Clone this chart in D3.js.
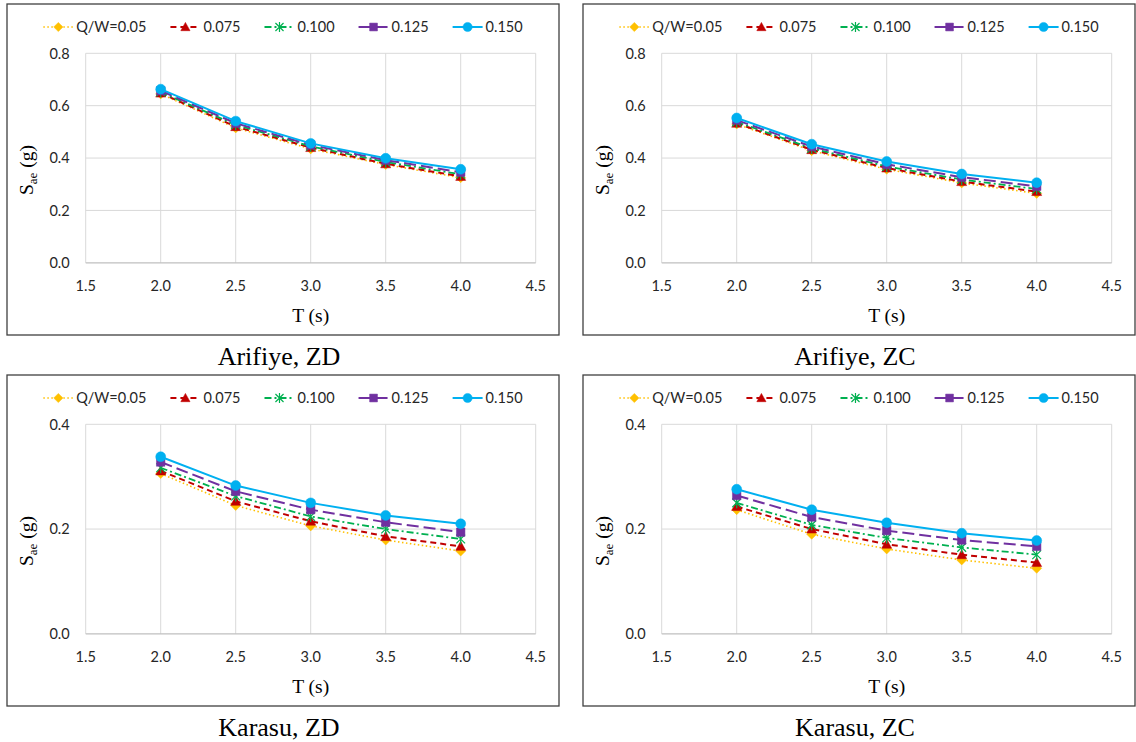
<!DOCTYPE html>
<html>
<head>
<meta charset="utf-8">
<script src="https://cdn.jsdelivr.net/npm/d3@7"></script>
<style>
  body { margin: 0; background: #fff; }
  svg { display: block; }
</style>
</head>
<body>
<div id="chart"></div>
<script>
// periods (s) at which Sae was computed
const periods = [2.0, 2.5, 3.0, 3.5, 4.0];
const xTicks = [1.5, 2.0, 2.5, 3.0, 3.5, 4.0, 4.5];
const yTicksArifiye = [0, 0.2, 0.4, 0.6, 0.8];
const yTicksKarasu = [0, 0.2, 0.4];
const ratioLabels = ['Q/W=0.05', '0.075', '0.100', '0.125', '0.150'];
const panelTitles = ['Arifiye, ZD', 'Arifiye, ZC', 'Karasu, ZD', 'Karasu, ZC'];

// Sae (g), one row per Q/W ratio
const arifiyeZD = [
  [0.645, 0.515, 0.435, 0.375, 0.325],
  [0.648, 0.520, 0.440, 0.378, 0.330],
  [0.652, 0.527, 0.445, 0.385, 0.338],
  [0.657, 0.533, 0.450, 0.392, 0.346],
  [0.663, 0.541, 0.456, 0.399, 0.357]
];
const arifiyeZC = [
  [0.530, 0.428, 0.357, 0.305, 0.265],
  [0.533, 0.432, 0.362, 0.310, 0.272],
  [0.538, 0.437, 0.368, 0.318, 0.282],
  [0.545, 0.444, 0.376, 0.327, 0.292],
  [0.553, 0.453, 0.387, 0.339, 0.306]
];
const karasuZD = [
  [0.306, 0.245, 0.206, 0.179, 0.158],
  [0.311, 0.253, 0.215, 0.186, 0.167],
  [0.317, 0.263, 0.224, 0.200, 0.181],
  [0.328, 0.272, 0.237, 0.213, 0.194],
  [0.338, 0.283, 0.250, 0.226, 0.210]
];
const karasuZC = [
  [0.237, 0.190, 0.162, 0.141, 0.125],
  [0.243, 0.200, 0.171, 0.151, 0.136],
  [0.250, 0.208, 0.183, 0.165, 0.151],
  [0.264, 0.223, 0.197, 0.179, 0.167],
  [0.276, 0.237, 0.212, 0.192, 0.178]
];

const panelData = [arifiyeZD, arifiyeZC, karasuZD, karasuZC];
const panelYTicks = [yTicksArifiye, yTicksArifiye, yTicksKarasu, yTicksKarasu];

// custom marker shapes for d3.symbol (size = (2r)^2)
const diamondType = {
  draw(ctx, size) {
    const r = Math.sqrt(size) / 2;
    ctx.moveTo(0, -r); ctx.lineTo(r, 0); ctx.lineTo(0, r); ctx.lineTo(-r, 0); ctx.closePath();
  }
};
const triangleType = {
  draw(ctx, size) {
    const r = Math.sqrt(size) / 2;
    ctx.moveTo(0, -r); ctx.lineTo(r, r * 0.8); ctx.lineTo(-r, r * 0.8); ctx.closePath();
  }
};
const starType = {
  draw(ctx, size) {
    const r = Math.sqrt(size) / 2;
    const d = r * 0.8;
    ctx.moveTo(0, -r); ctx.lineTo(0, r);
    ctx.moveTo(-d, -d); ctx.lineTo(d, d);
    ctx.moveTo(-d, d); ctx.lineTo(d, -d);
  }
};
const squareType = {
  draw(ctx, size) {
    const r = Math.sqrt(size) / 2;
    ctx.rect(-r, -r, 2 * r, 2 * r);
  }
};

const styles = [
  { color: '#FFC000', dash: '1.5 2.5', width: 1.6, type: diamondType, size: 100, fill: true },
  { color: '#C00000', dash: '6 4', width: 2, type: triangleType, size: 100, fill: true },
  { color: '#00B050', dash: '7 3 2 3', width: 1.8, type: starType, size: 120, fill: false },
  { color: '#7030A0', dash: '12 5', width: 2, type: squareType, size: 72, fill: true },
  { color: '#00B0F0', dash: null, width: 2, type: d3.symbolCircle, size: 78, fill: true }
];

const width = 1136;
const height = 742;
const panelW = 552;
const panelH = 331;
const panelPos = [[7, 4], [583, 4], [7, 375], [583, 375]];
const plot = { left: 78.7, right: 528.7, top: 49.3, bottom: 258.8 };

const svg = d3.select('#chart').append('svg')
  .attr('width', width)
  .attr('height', height);

const tickFont = 'Lato, "Open Sans", sans-serif';
const serif = '"Liberation Serif", "Times New Roman", serif';

panelData.forEach((rows, p) => {
  const [px, py] = panelPos[p];
  const yTicks = panelYTicks[p];
  const g = svg.append('g').attr('transform', `translate(${px}, ${py})`);

  g.append('rect')
    .attr('x', 0).attr('y', 0)
    .attr('width', panelW).attr('height', panelH)
    .attr('fill', '#fff')
    .attr('stroke', '#404040')
    .attr('stroke-width', 1.3);

  const x = d3.scaleLinear().domain([1.5, 4.5]).range([plot.left, plot.right]);
  const y = d3.scaleLinear().domain([0, d3.max(yTicks)]).range([plot.bottom, plot.top]);

  // gridlines
  g.selectAll('.vgrid')
    .data(xTicks)
    .enter()
    .append('line')
    .attr('x1', (d) => x(d)).attr('x2', (d) => x(d))
    .attr('y1', plot.top).attr('y2', plot.bottom)
    .attr('stroke', '#D9D9D9')
    .attr('stroke-width', 1);

  g.selectAll('.hgrid')
    .data(yTicks)
    .enter()
    .append('line')
    .attr('x1', plot.left).attr('x2', plot.right)
    .attr('y1', (d) => y(d)).attr('y2', (d) => y(d))
    .attr('stroke', (d) => (d === 0 ? '#BFBFBF' : '#D9D9D9'))
    .attr('stroke-width', (d) => (d === 0 ? 1.3 : 1));

  // tick labels
  g.selectAll('.ylab')
    .data(yTicks)
    .enter()
    .append('text')
    .attr('x', plot.left - 16)
    .attr('y', (d) => y(d))
    .attr('dy', '0.36em')
    .attr('text-anchor', 'end')
    .style('font-family', tickFont)
    .style('font-size', '14.5px')
    .style('fill', '#262626')
    .text((d) => d.toFixed(1));

  g.selectAll('.xlab')
    .data(xTicks)
    .enter()
    .append('text')
    .attr('x', (d) => x(d))
    .attr('y', 287)
    .attr('text-anchor', 'middle')
    .style('font-family', tickFont)
    .style('font-size', '14.5px')
    .style('fill', '#262626')
    .text((d) => d.toFixed(1));

  // axis titles
  g.append('text')
    .attr('x', (plot.left + plot.right) / 2)
    .attr('y', 318)
    .attr('text-anchor', 'middle')
    .style('font-family', serif)
    .style('font-size', '19.5px')
    .style('fill', '#000')
    .text('T (s)');

  const yTitle = g.append('text')
    .attr('transform', 'translate(26, 166) rotate(-90)')
    .attr('text-anchor', 'middle')
    .style('font-family', serif)
    .style('font-size', '19.5px')
    .style('fill', '#000');
  yTitle.append('tspan').text('S');
  yTitle.append('tspan').attr('dy', 4).style('font-size', '13px').text('ae');
  yTitle.append('tspan').attr('dy', -4).text(' (g)');

  // series
  const line = d3.line()
    .x((d) => x(d[0]))
    .y((d) => y(d[1]));

  rows.forEach((vals, i) => {
    const st = styles[i];
    const pts = periods.map((t, k) => [t, vals[k]]);
    const s = g.append('g');
    s.append('path')
      .datum(pts)
      .attr('d', line)
      .attr('fill', 'none')
      .attr('stroke', st.color)
      .attr('stroke-width', st.width)
      .attr('stroke-dasharray', st.dash);
    s.selectAll('.mk')
      .data(pts)
      .enter()
      .append('path')
      .attr('transform', (d) => `translate(${x(d[0])}, ${y(d[1])})`)
      .attr('d', d3.symbol().type(st.type).size(st.size))
      .attr('fill', st.fill ? st.color : 'none')
      .attr('stroke', st.color)
      .attr('stroke-width', st.fill ? 0.5 : 1.2);
  });

  // legend, centred in the panel
  const legend = g.append('g');
  const lineLen = 30;
  const textGap = 3;
  const itemGap = 24;
  let cx = 0;
  ratioLabels.forEach((label, i) => {
    const st = styles[i];
    const item = legend.append('g').attr('transform', `translate(${cx}, 0)`);
    item.append('line')
      .attr('x1', 0).attr('x2', lineLen)
      .attr('y1', 0).attr('y2', 0)
      .attr('stroke', st.color)
      .attr('stroke-width', st.width)
      .attr('stroke-dasharray', st.dash);
    item.append('path')
      .attr('transform', `translate(${lineLen / 2}, 0)`)
      .attr('d', d3.symbol().type(st.type).size(st.size * 0.85))
      .attr('fill', st.fill ? st.color : 'none')
      .attr('stroke', st.color)
      .attr('stroke-width', st.fill ? 0.5 : 1.2);
    const t = item.append('text')
      .attr('x', lineLen + textGap)
      .attr('y', 0)
      .attr('dy', '0.36em')
      .style('font-family', tickFont)
      .style('font-size', '14.5px')
      .style('fill', '#262626')
      .text(label);
    cx += lineLen + textGap + t.node().getComputedTextLength() + itemGap;
  });
  const legendW = cx - itemGap;
  legend.attr('transform', `translate(${(panelW - legendW) / 2}, 23)`);

  // panel caption
  svg.append('text')
    .attr('x', px + panelW / 2 - 4)
    .attr('y', py + panelH + 30)
    .attr('text-anchor', 'middle')
    .style('font-family', serif)
    .style('font-size', '26px')
    .style('fill', '#000')
    .text(panelTitles[p]);
});
</script>
</body>
</html>
